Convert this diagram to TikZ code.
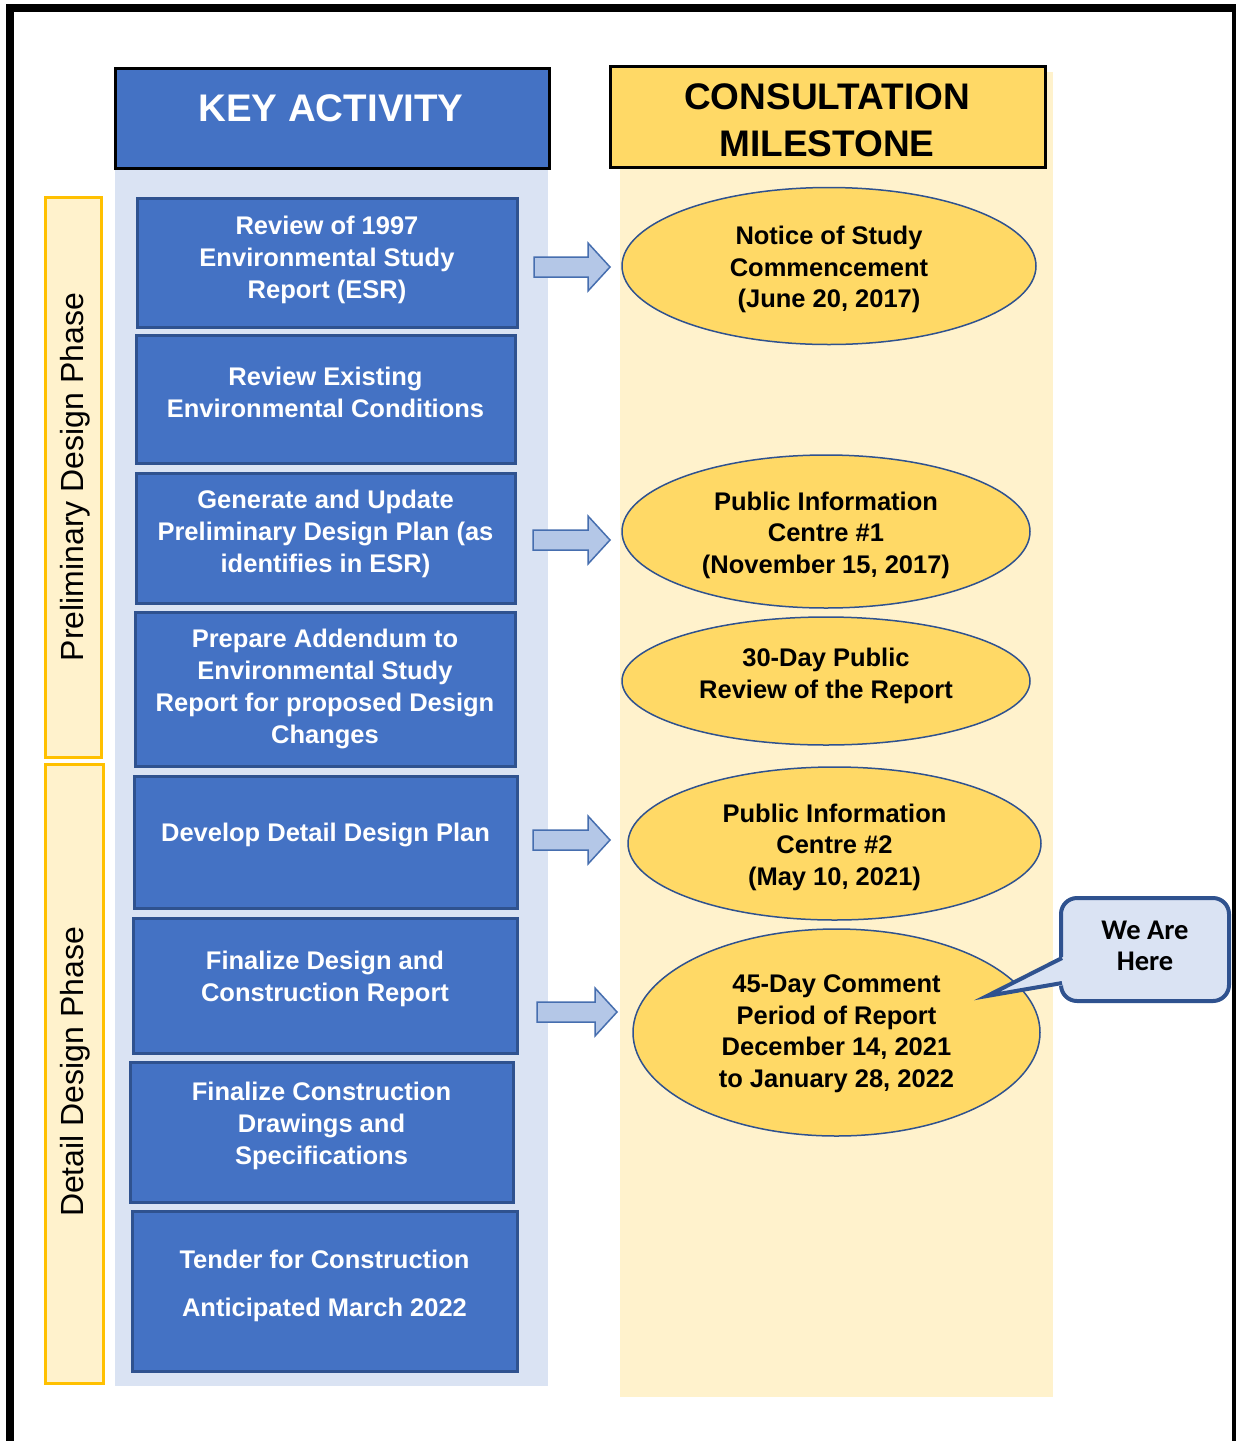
\documentclass[tikz,border=0pt]{standalone}
\usepackage{fontspec}
\setmainfont{Liberation Sans}
\newfontfamily\calfont{Carlito}
\usetikzlibrary{shapes.geometric}
\definecolor{kblue}{RGB}{68,114,196}
\definecolor{kdark}{RGB}{47,82,143}
\definecolor{klight}{RGB}{218,227,243}
\definecolor{kgold}{RGB}{255,217,102}
\definecolor{kcream}{RGB}{255,242,204}
\definecolor{korange}{RGB}{255,192,0}
\definecolor{karrow}{RGB}{180,199,231}
\definecolor{karrowline}{RGB}{70,110,175}
\newcommand\blockarrow[4]{%
  \coordinate (#1) at (#2,#3);
  \draw[barrowsty] ({#2},{#3-10}) -- ({#4-22},{#3-10}) -- ({#4-22},{#3-24}) -- ({#4},{#3})
     -- ({#4-22},{#3+24}) -- ({#4-22},{#3+10}) -- ({#2},{#3+10}) -- cycle;}
\begin{document}
\begin{tikzpicture}[x=1pt,y=-1pt,
  actbox/.style={rectangle, draw=kdark, line width=3pt, fill=kblue, inner sep=0pt},
  acttext/.style={text=white, font=\fontsize{25.5}{32}\selectfont\bfseries, align=center, inner sep=0pt},
  mile/.style={ellipse, draw=kdark, line width=1.5pt, fill=kgold, inner sep=0pt},
  miletext/.style={font=\fontsize{25.5}{31.5}\selectfont\bfseries, align=center, inner sep=0pt},
  phasebox/.style={rectangle, draw=korange, line width=3pt, fill=kcream, inner sep=0pt},
  phasetext/.style={rotate=90, font=\fontsize{32}{38}\selectfont, inner sep=0pt},
  barrowsty/.style={fill=karrow, draw=karrowline, line width=1.5pt, line join=miter},
]
\useasboundingbox (0,0) rectangle (1236,1441);
\fill[white] (0,0) rectangle (1236,1441);
% outer frame
\fill[black] (6,4) rectangle (14,1441);
\fill[black] (6,4) rectangle (1236,12);
\fill[black] (1232,4) rectangle (1236,1441);

% columns
\fill[klight] (115,160) rectangle (548,1386);
\fill[kcream] (620,72) rectangle (1053,1397);

% headers
\node[rectangle, draw=black, line width=3pt, fill=kblue, minimum width=434, minimum height=100, inner sep=0pt] (kah) at (332,118) {};
\node[text=white, font=\fontsize{38.5}{44}\selectfont\bfseries, inner sep=0pt] (kat) at (331,108) {KEY ACTIVITY};
\node[rectangle, draw=black, line width=3pt, fill=kgold, minimum width=435, minimum height=101, inner sep=0pt] (cmh) at (827.5,116.5) {};
\node[font=\fontsize{37}{47}\selectfont\bfseries, align=center, inner sep=0pt] (cmt) at (827,120) {CONSULTATION\\MILESTONE};

% phase boxes
\node[phasebox, minimum width=56, minimum height=560] (pb) at (73,477) {};
\node[phasetext] (pl) at (75,477) {Preliminary Design Phase};
\node[phasebox, minimum width=58, minimum height=619] (db) at (74,1073.5) {};
\node[phasetext] (dl) at (75,1072) {Detail Design Phase};

% activity boxes
\node[actbox, minimum width=380, minimum height=129] (b1) at (327,262.5) {};
\node[acttext] (t1) at (327,260) {Review of 1997\\Environmental Study\\Report (ESR)};
\node[actbox, minimum width=379, minimum height=128] (b2) at (325.5,399) {};
\node[acttext] (t2) at (325.5,392) {Review Existing\\Environmental Conditions};
\node[actbox, minimum width=379, minimum height=130] (b3) at (325.5,538) {};
\node[acttext] (t3) at (325.5,533.5) {Generate and Update\\Preliminary Design Plan (as\\identifies in ESR)};
\node[actbox, minimum width=380, minimum height=154] (b4) at (325,689) {};
\node[acttext] (t4) at (325,689) {Prepare Addendum to\\Environmental Study\\Report for proposed Design\\Changes};
\node[actbox, minimum width=383, minimum height=132] (b5) at (325.5,842) {};
\node[acttext] (t5) at (325.5,835) {Develop Detail Design Plan};
\node[actbox, minimum width=384, minimum height=135] (b6) at (325,985.5) {};
\node[acttext] (t6) at (325,978.5) {Finalize Design and\\Construction Report};
\node[actbox, minimum width=383, minimum height=140] (b7) at (321.5,1132) {};
\node[acttext] (t7) at (321.5,1125.5) {Finalize Construction\\Drawings and\\Specifications};
\node[actbox, minimum width=385, minimum height=160] (b8) at (324.5,1291) {};
\node[acttext] (t8) at (324.5,1285.5) {Tender for Construction\\[16pt]Anticipated March 2022};

% milestones
\node[mile, minimum width=414, minimum height=157] (e1) at (829,266) {};
\node[miletext] (m1) at (829,269.5) {Notice of Study\\Commencement\\(June 20, 2017)};
\node[mile, minimum width=408, minimum height=153] (e2) at (826,531.5) {};
\node[miletext] (m2) at (826,535) {Public Information\\Centre \#1\\(November 15, 2017)};
\node[mile, minimum width=408, minimum height=128] (e3) at (826,681) {};
\node[miletext] (m3) at (826,676) {30-Day Public\\Review of the Report};
\node[mile, minimum width=413, minimum height=153] (e4) at (834.5,843.5) {};
\node[miletext] (m4) at (834.5,847) {Public Information\\Centre \#2\\(May 10, 2021)};
\node[mile, minimum width=407, minimum height=207] (e5) at (836.5,1032.5) {};
\node[miletext] (m5) at (836.5,1033.5) {45-Day Comment\\Period of Report\\December 14, 2021\\to January 28, 2022};

% block arrows
\blockarrow{a1}{534}{267}{610}
\blockarrow{a2}{533}{540}{610}
\blockarrow{a3}{533}{840}{610}
\blockarrow{a4}{537}{1012}{617}

% callout
\node[rectangle, rounded corners=16pt, draw=kdark, line width=4pt, fill=klight, minimum width=168, minimum height=103,
      inner sep=0pt] (here) at (1145,949.5) {};
\node[font=\fontsize{28.5}{31}\selectfont\calfont\bfseries, align=center, inner sep=0pt] (heret) at (1145,946) {We Are\\Here};
\coordinate (tip) at (987,996);
\fill[klight] (1065,956) -- (tip) -- (1065,985) -- cycle;
\draw[kdark, line width=4pt, line join=miter] (1062,958) -- (tip) -- (1062,983);
\end{tikzpicture}
\end{document}
